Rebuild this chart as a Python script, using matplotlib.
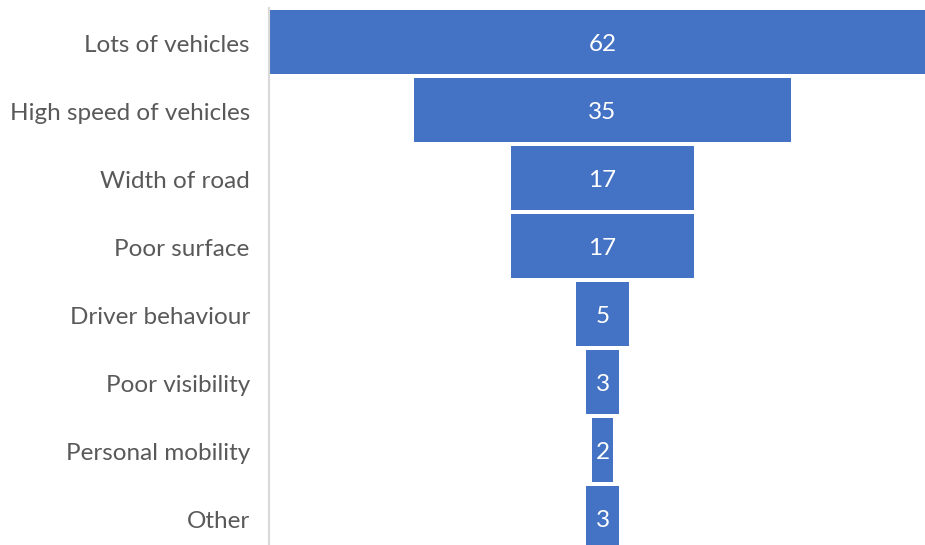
import matplotlib
matplotlib.use('Agg')
import matplotlib.pyplot as plt
import matplotlib.transforms as mtransforms

categories = ['Lots of vehicles', 'High speed of vehicles', 'Width of road',
              'Poor surface', 'Driver behaviour', 'Poor visibility',
              'Personal mobility', 'Other']
counts = [62, 35, 17, 17, 5, 3, 2, 3]

plt.rcParams['font.family'] = ['Lato', 'DejaVu Sans']

fig = plt.figure(figsize=(9.25, 5.45), dpi=100)
ax = fig.add_axes([268.5 / 925, 0, 1 - 268.5 / 925, 537.25 / 545])

pos = list(range(len(categories)))
lefts = [-c / 2.0 for c in counts]
ax.barh(pos, counts, left=lefts, height=0.935, color='#4472C4', zorder=2)

for p, c in zip(pos, counts):
    ax.annotate(str(c), (0, p), xytext=(0, -2), textcoords='offset points',
                ha='center', va='center', color='white', fontsize=17.5)

ax.set_xlim(-31.07, 30.0)
ax.set_ylim(7.40, -0.5)
ax.set_yticks(pos)
ax.set_yticklabels(categories, fontsize=17.5, color='#595959')
ax.tick_params(axis='y', length=0, pad=13.5)
ax.set_xticks([])

# nudge the category labels down a touch
shift = mtransforms.ScaledTranslation(0, -1.5 / 72, fig.dpi_scale_trans)
for lbl in ax.get_yticklabels():
    lbl.set_transform(lbl.get_transform() + shift)

for side in ['top', 'right', 'bottom']:
    ax.spines[side].set_visible(False)
ax.spines['left'].set_color('#d9d9d9')
ax.spines['left'].set_linewidth(1.5)

fig.savefig('out.png', dpi=100)
